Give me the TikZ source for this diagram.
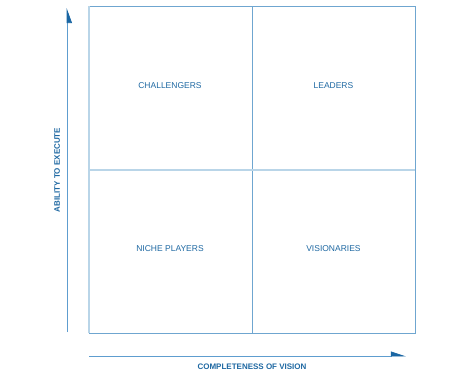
\documentclass[tikz,border=0pt]{standalone}
\usepackage{fontspec}
\setmainfont{Liberation Sans}
\usetikzlibrary{arrows.meta, positioning}
\definecolor{gridblue}{HTML}{6FA6D0}
\definecolor{paleblue}{HTML}{B9D5E8}
\definecolor{axisblue}{HTML}{5E9DCF}
\definecolor{tipblue}{HTML}{1A66A3}
\definecolor{textblue}{HTML}{1E68A2}

\begin{document}
\begin{tikzpicture}[
    x=1pt, y=1pt, every node/.style={align=center, text=textblue},
    quadlabel/.style={font=\fontsize{8.5}{10}\selectfont},
    axislabel/.style={font=\fontsize{8}{10}\selectfont\bfseries},
    axisline/.style={draw=axisblue, line width=0.8pt}
]
\useasboundingbox (0,0) rectangle (454,381);
% quadrant frame
\node (grid) [draw=gridblue, line width=0.9pt, minimum width=326pt, minimum height=327pt, inner sep=0pt] at (252,211.5) {};
\draw[paleblue, line width=2pt] (grid.south west) -- (grid.north west);
\draw[gridblue, line width=0.8pt] (grid.south) -- (grid.north);
\draw[paleblue, line width=2pt] (grid.west) -- (grid.east);

\node (challengers) [quadlabel] at (170,295.5) {CHALLENGERS};
\node (leaders) [quadlabel, right=of challengers.center, anchor=center, xshift=135pt] {LEADERS};
\node (niche) [quadlabel] at (170,132.5) {NICHE PLAYERS};
\node (visionaries) [quadlabel, right=of niche.center, anchor=center, xshift=135pt] {VISIONARIES};

% axes
\coordinate (y_start) at (67,49);
\coordinate (y_end) at (67,373);
\coordinate (x_start) at (89,25);
\coordinate (x_end) at (406,25);
\draw[axisline, -{Triangle[harpoon, swap, length=14pt, width=10pt, color=tipblue]}] (y_start) -- (y_end);
\draw[axisline, -{Triangle[harpoon, length=14pt, width=9pt, color=tipblue]}] (x_start) -- (x_end);

\node (x_label) [axislabel] at (252,14) {COMPLETENESS OF VISION};
\node (y_label) [axislabel, rotate=90] at (57,211) {ABILITY TO EXECUTE};
\end{tikzpicture}
\end{document}
